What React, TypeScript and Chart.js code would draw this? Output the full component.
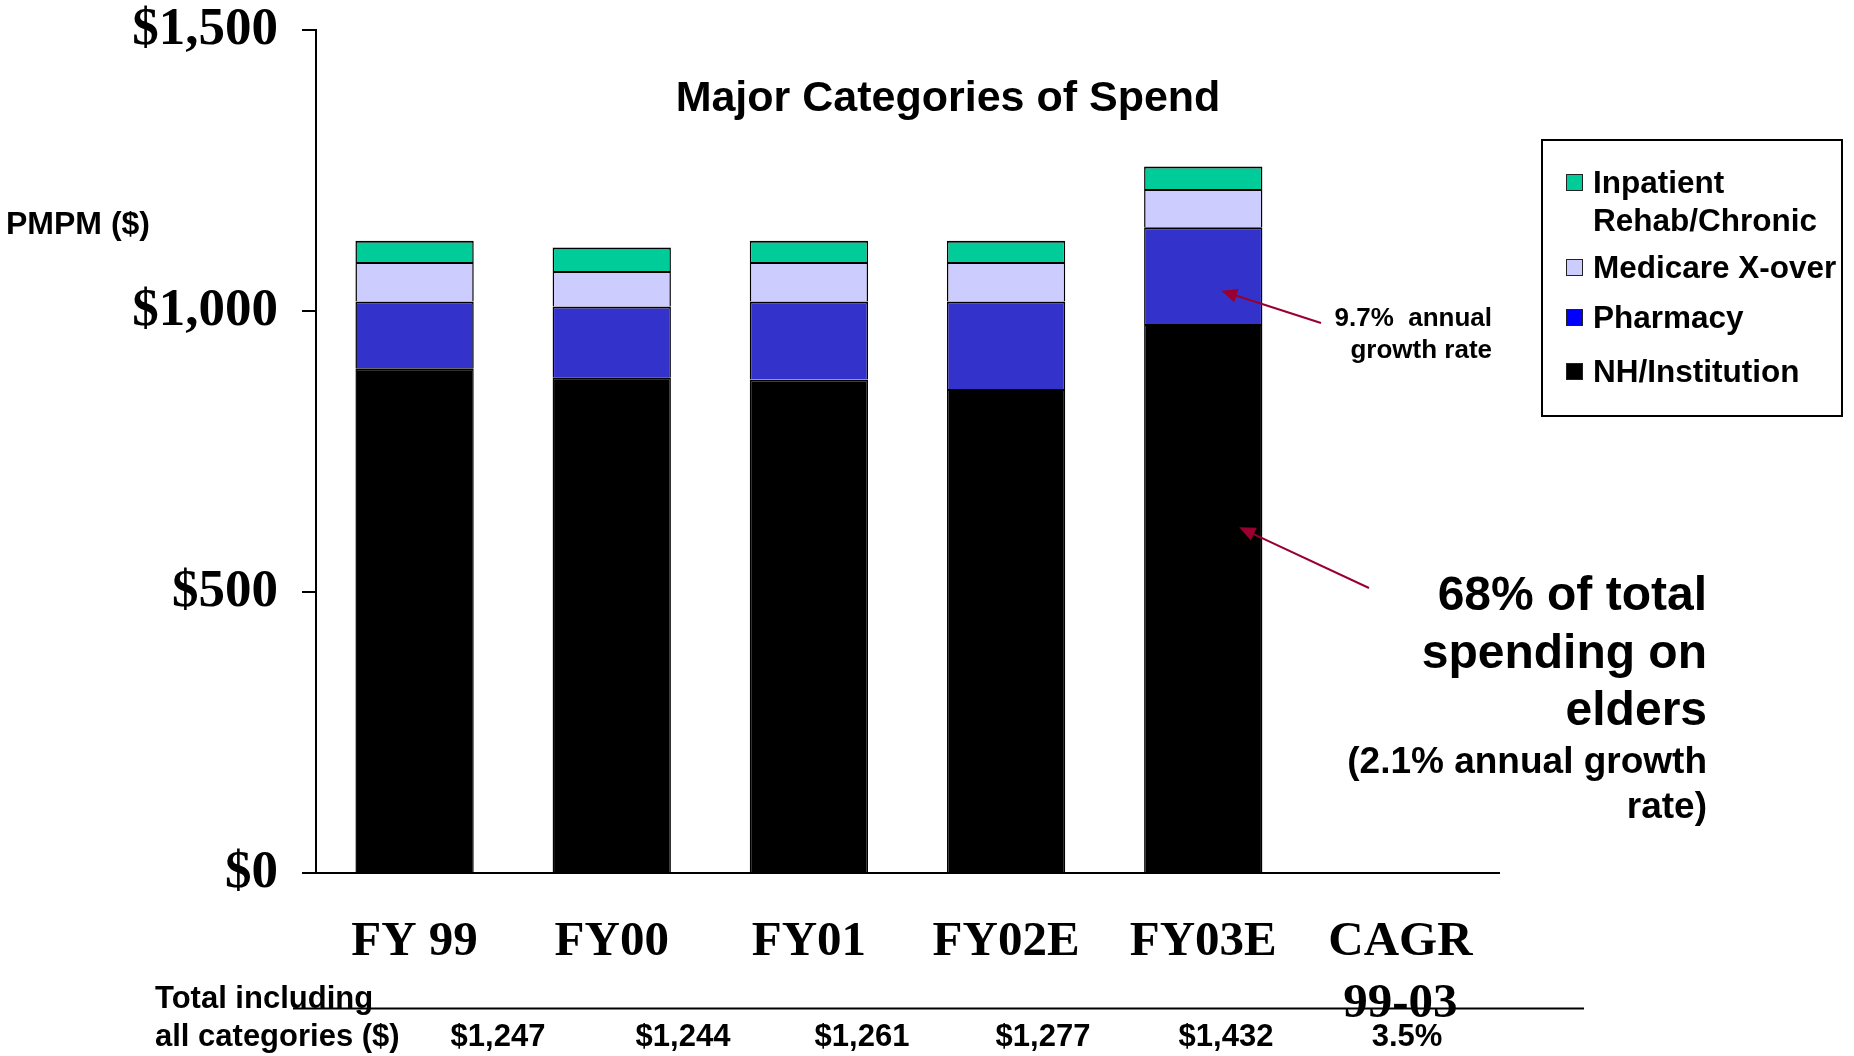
import React, { useEffect, useRef } from 'react';
import { Chart, registerables } from 'chart.js';

Chart.register(...registerables);

// ---------- data ----------
const categories: (string | string[])[] = ['FY 99', 'FY00', 'FY01', 'FY02E', 'FY03E', ['CAGR', '99-03']];
const nhInstitution = [898, 882, 878, 861, 977, null];
const pharmacy = [119, 126, 139, 156, 172, null];
const medicareXover = [70, 63, 70, 70, 68, null];
const inpatientRehab = [38, 42, 38, 38, 40, null];
const yTickValues = [0, 500, 1000, 1500];
const totalLabels = ['$1,247', '$1,244', '$1,261', '$1,277', '$1,432', '3.5%'];

// ---------- styles / layout ----------
const W = 1854;
const H = 1056;
const SANS = '"Liberation Sans", Arial, sans-serif';
const SERIF = '"Liberation Serif", "Times New Roman", serif';
const ARROW_COLOR = '#990030';
const totalsX = [498, 683, 862, 1043, 1226, 1407];

const seriesStyle = [
  { label: 'NH/Institution', data: nhInstitution, bg: '#000000', legend: '#000000', lines: ['NH/Institution'] },
  { label: 'Pharmacy', data: pharmacy, bg: '#3333CC', legend: '#0000FF', lines: ['Pharmacy'] },
  { label: 'Medicare X-over', data: medicareXover, bg: '#CCCCFF', legend: '#CCCCFF', lines: ['Medicare X-over'] },
  { label: 'Inpatient Rehab/Chronic', data: inpatientRehab, bg: '#00CC99', legend: '#00CC99', lines: ['Inpatient', 'Rehab/Chronic'] },
];

function drawArrow(ctx: CanvasRenderingContext2D, x1: number, y1: number, x2: number, y2: number) {
  const ang = Math.atan2(y2 - y1, x2 - x1);
  const headLen = 16;
  const headW = 7;
  ctx.save();
  ctx.strokeStyle = ARROW_COLOR;
  ctx.fillStyle = ARROW_COLOR;
  ctx.lineWidth = 2;
  ctx.beginPath();
  ctx.moveTo(x1, y1);
  ctx.lineTo(x2 - Math.cos(ang) * headLen * 0.8, y2 - Math.sin(ang) * headLen * 0.8);
  ctx.stroke();
  ctx.beginPath();
  ctx.moveTo(x2, y2);
  const bx = x2 - Math.cos(ang) * headLen;
  const by = y2 - Math.sin(ang) * headLen;
  ctx.lineTo(bx + Math.sin(ang) * headW, by - Math.cos(ang) * headW);
  ctx.lineTo(bx - Math.sin(ang) * headW, by + Math.cos(ang) * headW);
  ctx.closePath();
  ctx.fill();
  ctx.restore();
}

const overlayPlugin = {
  id: 'overlay',
  afterDraw(chart: any) {
    const ctx: CanvasRenderingContext2D = chart.ctx;
    const xs = chart.scales.x;
    const ys = chart.scales.y;
    ctx.save();
    ctx.fillStyle = '#000';

    // title
    ctx.font = `bold 43px ${SANS}`;
    ctx.textAlign = 'center';
    ctx.textBaseline = 'middle';
    ctx.fillText('Major Categories of Spend', 948, 99);

    // axis title
    ctx.font = `bold 32px ${SANS}`;
    ctx.textAlign = 'left';
    ctx.fillText('PMPM ($)', 6, 225);

    // legend box
    ctx.lineWidth = 2;
    ctx.strokeStyle = '#000';
    ctx.strokeRect(1542, 140, 300, 276);
    const legendOrder = [3, 2, 1, 0];
    const rowY = [[183, 221], [268], [318], [372]];
    ctx.font = `bold 31.5px ${SANS}`;
    legendOrder.forEach((si, i) => {
      const s = seriesStyle[si];
      const cy = rowY[i][0];
      ctx.fillStyle = s.legend;
      ctx.fillRect(1566, cy - 9, 17, 17);
      ctx.lineWidth = 1;
      ctx.strokeStyle = '#222';
      ctx.strokeRect(1566.5, cy - 8.5, 16, 16);
      ctx.fillStyle = '#000';
      ctx.textAlign = 'left';
      s.lines.forEach((ln, li) => ctx.fillText(ln, 1593, rowY[i][li] + 1));
    });

    // annotation 1
    ctx.textAlign = 'right';
    ctx.font = `bold 26px ${SANS}`;
    ctx.fillText('9.7%  annual', 1492, 319);
    ctx.fillText('growth rate', 1492, 351);
    const barX = xs.getPixelForValue(4);
    drawArrow(ctx, 1321, 323, barX + 18, ys.getPixelForValue(1036));

    // annotation 2
    ctx.font = `bold 48px ${SANS}`;
    ctx.fillText('68% of total', 1707, 597);
    ctx.fillText('spending on', 1707, 655);
    ctx.fillText('elders', 1707, 712);
    ctx.font = `bold 37px ${SANS}`;
    ctx.fillText('(2.1% annual growth', 1707, 763);
    ctx.fillText('rate)', 1707, 808);
    drawArrow(ctx, 1369, 588, barX + 36, ys.getPixelForValue(615));

    // bottom table
    ctx.strokeStyle = '#000';
    ctx.lineWidth = 2;
    ctx.beginPath();
    ctx.moveTo(293, 1008.5);
    ctx.lineTo(1584, 1008.5);
    ctx.stroke();
    ctx.font = `bold 31px ${SANS}`;
    ctx.textAlign = 'left';
    ctx.fillText('Total including', 155, 999);
    ctx.fillText('all categories ($)', 155, 1037);
    ctx.textAlign = 'center';
    totalLabels.forEach((t, i) => ctx.fillText(t, totalsX[i], 1037));
    ctx.restore();
  },
};

export default function App() {
  const ref = useRef<HTMLCanvasElement | null>(null);
  useEffect(() => {
    document.body.style.margin = '0';
    const canvas = ref.current!;
    const chart = new Chart(canvas, {
      type: 'bar',
      data: {
        labels: categories as any,
        datasets: seriesStyle.map((s) => ({
          label: s.label,
          data: s.data as any,
          backgroundColor: s.bg,
          borderColor: '#000',
          borderWidth: { top: 2, left: 1.5, right: 1.5, bottom: 0 } as any,
          borderSkipped: false as any,
          barPercentage: 0.6,
          categoryPercentage: 1,
        })),
      },
      options: {
        responsive: false,
        animation: false,
        devicePixelRatio: 1,
        layout: { padding: { left: 0, right: 355, top: 30, bottom: 0 } },
        plugins: {
          legend: { display: false },
          tooltip: { enabled: false },
          title: { display: false },
        },
        scales: {
          x: {
            stacked: true,
            grid: { display: false, drawTicks: false },
            border: { display: true, color: '#000', width: 2 },
            ticks: {
              color: '#000',
              padding: 38,
              autoSkip: false,
              maxRotation: 0,
              font: { family: SERIF, weight: 'bold', size: 49, lineHeight: 1.27 },
            },
            afterFit: (s: any) => {
              s.height = 183;
              s.paddingLeft = 0;
              s.paddingRight = 0;
            },
          },
          y: {
            stacked: true,
            min: 0,
            max: 1500,
            afterBuildTicks: (s: any) => {
              s.ticks = yTickValues.map((v) => ({ value: v }));
            },
            ticks: {
              color: '#000',
              padding: 24,
              font: { family: SERIF, weight: 'bold', size: 53 },
              callback: (v: any) => '$' + Number(v).toLocaleString('en-US'),
            },
            grid: {
              display: true,
              drawOnChartArea: false,
              drawTicks: true,
              tickLength: 14,
              color: '#000',
              lineWidth: 2,
            },
            border: { display: true, color: '#000', width: 2 },
            afterFit: (s: any) => {
              s.width = 316;
              s.paddingTop = 0;
              s.paddingBottom = 0;
            },
          },
        },
      } as any,
      plugins: [overlayPlugin],
    });
    return () => chart.destroy();
  }, []);
  return (
    <div style={{ width: W, height: H, background: '#fff' }}>
      <canvas ref={ref} width={W} height={H} style={{ display: 'block' }} />
    </div>
  );
}
